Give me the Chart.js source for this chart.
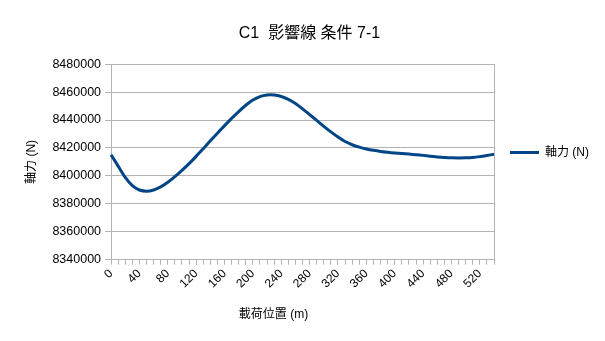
<!DOCTYPE html>
<html>
<head>
<meta charset="utf-8">
<script src="https://cdn.jsdelivr.net/npm/chart.js@4.4.0/dist/chart.umd.min.js"></script>
<style>
  html, body { margin: 0; padding: 0; background: #fff; }
  #wrap { width: 605px; height: 341px; }
</style>
</head>
<body>
<div id="wrap"><canvas id="chart"></canvas></div>
<script>
// load position (m), one point every 10 m
const positions = [
    0, 10, 20, 30, 40, 50, 60, 70, 80, 90,
    100, 110, 120, 130, 140, 150, 160, 170, 180, 190,
    200, 210, 220, 230, 240, 250, 260, 270, 280, 290,
    300, 310, 320, 330, 340, 350, 360, 370, 380, 390,
    400, 410, 420, 430, 440, 450, 460, 470, 480, 490,
    500, 510, 520, 530, 540
];

// axial force (N)
const axialForce = [
    8415200, 8407000, 8398900, 8393000, 8389900, 8389000, 8389900, 8392100, 8395400, 8399500,
    8404000, 8408800, 8414000, 8419500, 8425100, 8430600, 8436000, 8441200, 8446100, 8450600,
    8454300, 8456800, 8457900, 8457900, 8456900, 8454800, 8451800, 8448000, 8443900, 8439700,
    8435500, 8431500, 8427800, 8424600, 8422300, 8420600, 8419300, 8418300, 8417500, 8416900,
    8416400, 8416000, 8415600, 8415200, 8414700, 8414100, 8413600, 8413200, 8412950, 8412900,
    8412950, 8413200, 8413800, 8414600, 8415500
];

const yMin = 8340000;
const yMax = 8480000;
const yStep = 20000;
const labelEvery = 4;

const titleText = 'C1  影響線 条件 7-1';
const xTitleText = '載荷位置 (m)';
const yTitleText = '軸力 (N)';
const seriesName = '軸力 (N)';

Chart.defaults.font.family = '"Liberation Sans", "Noto Sans CJK JP", sans-serif';
Chart.defaults.color = '#000';

// x axis title, centred like the original (over plot + y labels)
const xTitlePlugin = {
    id: 'xTitle',
    afterDraw(chart) {
        const ctx = chart.ctx;
        const area = chart.chartArea;
        ctx.save();
        ctx.font = '12px "Liberation Sans", "Noto Sans CJK JP", sans-serif';
        ctx.fillStyle = '#000';
        ctx.textAlign = 'center';
        ctx.textBaseline = 'middle';
        ctx.fillText(xTitleText, (area.left - 58 + area.right) / 2, area.bottom + 55);
        ctx.restore();
    }
};

const ctx = document.getElementById('chart').getContext('2d');
const chart = new Chart(ctx, {
    type: 'line',
    data: {
        labels: positions,
        datasets: [{
            label: seriesName,
            data: axialForce,
            borderColor: '#004586',
            backgroundColor: '#004586',
            borderWidth: 3,
            pointRadius: 0,
            tension: 0.3,
            fill: false
        }]
    },
    options: {
        responsive: true,
        maintainAspectRatio: false,
        animation: false,
        layout: {
            padding: { left: 20, right: 6, top: 12, bottom: 48 }
        },
        plugins: {
            title: {
                display: true,
                text: titleText,
                font: { size: 16, weight: 'normal' },
                padding: { top: 12, bottom: 21 }
            },
            legend: {
                position: 'right',
                labels: {
                    usePointStyle: true,
                    pointStyle: 'line',
                    pointStyleWidth: 29,
                    padding: 16,
                    font: { size: 12 }
                }
            },
            tooltip: { enabled: false }
        },
        scales: {
            x: {
                type: 'category',
                offset: false,
                grid: {
                    drawOnChartArea: true,
                    color: c => c.index === positions.length - 1 ? '#b3b3b3' : 'rgba(0,0,0,0)',
                    tickColor: '#b3b3b3',
                    tickLength: 5
                },
                border: { color: '#b3b3b3' },
                ticks: {
                    autoSkip: false,
                    minRotation: 45,
                    maxRotation: 45,
                    padding: 2,
                    font: { size: 12 },
                    callback: function(value, index) {
                        return index % labelEvery === 0 ? positions[index] : '';
                    }
                }
            },
            y: {
                min: yMin,
                max: yMax,
                grid: {
                    color: '#b3b3b3',
                    tickColor: '#b3b3b3',
                    tickLength: 6
                },
                border: { color: '#b3b3b3' },
                title: {
                    display: true,
                    text: yTitleText,
                    font: { size: 12 },
                    padding: { top: 4, bottom: 10 }
                },
                ticks: {
                    stepSize: yStep,
                    padding: 4,
                    font: { size: 12.5 },
                    callback: v => String(v)
                }
            }
        }
    },
    plugins: [xTitlePlugin]
});
</script>
</body>
</html>
